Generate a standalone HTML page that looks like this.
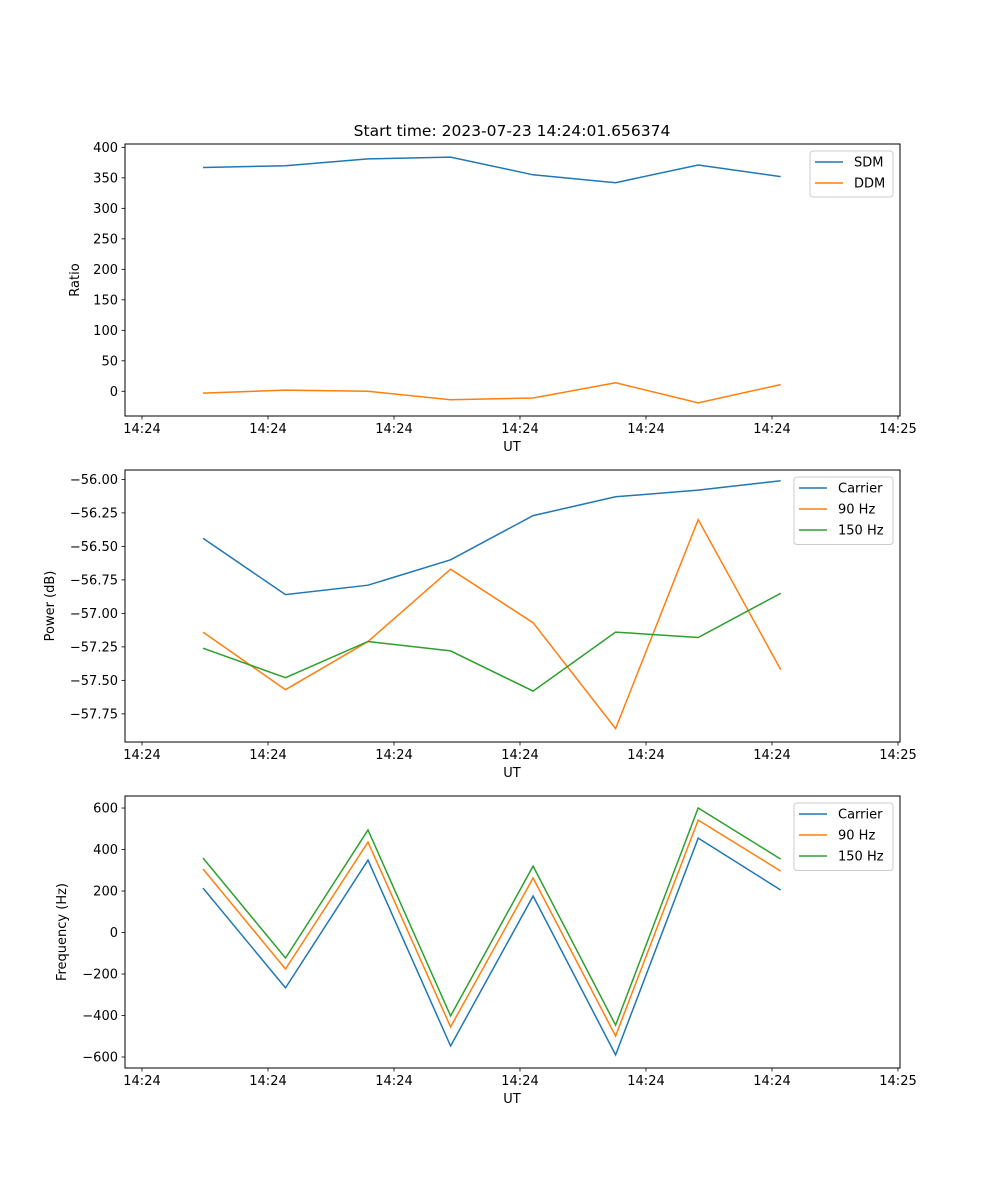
<!DOCTYPE html>
<html><head><meta charset="utf-8"><style>
body{margin:0;background:#fff}
svg{display:block;font-family:"DejaVu Sans","Liberation Sans",sans-serif}
</style></head><body>
<svg id="fig" width="1000" height="1200"></svg>
<script>
const times=[4.84,11.39,17.94,24.49,31.04,37.59,44.14,50.69];
const xTickVals=[0,10,20,30,40,50,60];
const xTickLabels=["14:24","14:24","14:24","14:24","14:24","14:24","14:25"];
const sdm=[367,370,381,384,355,342,371,352];
const ddm=[-3,2,0,-14,-11,14,-19,11];
const pCarrier=[-56.44,-56.86,-56.79,-56.60,-56.27,-56.13,-56.08,-56.01];
const p90=[-57.14,-57.57,-57.21,-56.67,-57.07,-57.86,-56.30,-57.42];
const p150=[-57.26,-57.48,-57.21,-57.28,-57.58,-57.14,-57.18,-56.85];
const fCarrier=[214,-267,349,-547,176,-590,455,205];
const f90=[306,-176,436,-455,263,-499,542,296];
const f150=[359,-123,494,-402,320,-446,600,354];
const ticks1=[0,50,100,150,200,250,300,350,400];
const ticks2=[-57.75,-57.5,-57.25,-57,-56.75,-56.5,-56.25,-56];
const ticks3=[-600,-400,-200,0,200,400,600];

const NS="http://www.w3.org/2000/svg";
const svg=document.getElementById('fig');
function mk(tag,attrs,parent,text){const e=document.createElementNS(NS,tag);for(const k in attrs)e.setAttribute(k,attrs[k]);if(text!==undefined)e.textContent=text;(parent||svg).appendChild(e);return e;}
const X0=125,X1=900;
const xs=t=>142+t*12.6;
const C=['#1f77b4','#ff7f0e','#2ca02c'];
const FS=13;

function panel(name,top,ymin,ymax,ticks,fmt,ylabel,ylx,series,legend){
  const bot=top+272;
  const g=mk('g',{});
  
  
  const ys=v=>bot-(v-ymin)/(ymax-ymin)*272;
  series.forEach((s,i)=>{
    const pts=times.map((t,j)=>xs(t).toFixed(1)+','+ys(s.v[j]).toFixed(1)).join(' ');
    const l=mk('polyline',{points:pts,fill:'none',stroke:C[i],'stroke-width':1.5},g);
    
    
  });
  const fr=mk('rect',{x:X0,y:top,width:X1-X0,height:272,fill:'none',stroke:'#000','stroke-width':1},g);
  
  
  xTickVals.forEach((t,i)=>{
    const x=xs(t);
    mk('line',{x1:x,x2:x,y1:bot,y2:bot+3.5,stroke:'#000','stroke-width':0.8},g);
    const tx=mk('text',{x:x,y:bot+17,'font-size':FS,'text-anchor':'middle'},g,xTickLabels[i]);
    
    
  });
  ticks.forEach(v=>{
    const y=ys(v);
    mk('line',{x1:X0,x2:X0-3.5,y1:y,y2:y,stroke:'#000','stroke-width':0.8},g);
    const tx=mk('text',{x:X0-7,y:y+4.7,'font-size':FS,'text-anchor':'end'},g,fmt(v));
    
    
  });
  const xl=mk('text',{x:512,y:bot+35,'font-size':FS,'text-anchor':'middle'},g,'UT');
  
  
  const yl=mk('text',{x:ylx,y:top+136,'font-size':FS,'text-anchor':'middle',transform:`rotate(-90 ${ylx} ${top+136})`},g,ylabel);
  
  
  const lg=mk('g',{},g);
  
  
  mk('rect',{x:legend.x,y:top+7,width:893-legend.x,height:series.length*21.5+3,fill:'#fff',stroke:'#ccc',rx:3},lg);
  series.forEach((s,i)=>{
    const y=top+18+i*21;
    mk('line',{x1:legend.x+5,x2:legend.x+33,y1:y,y2:y,stroke:C[i],'stroke-width':1.5},lg);
    const t=mk('text',{x:legend.x+44,y:y+4.7,'font-size':FS},lg,s.label);
    
    
  });
}
const t=mk('text',{x:512,y:136,'font-size':15.5,'text-anchor':'middle'},svg,'Start time: 2023-07-23 14:24:01.656374');


panel('ratio-panel',144,-40.5,405.5,ticks1,v=>String(v),'Ratio',79,
  [{key:'sdm',label:'SDM',v:sdm},{key:'ddm',label:'DDM',v:ddm}],{x:810});
panel('power-panel',470,-57.96,-55.93,ticks2,v=>'\u2212'.repeat(v<0?1:0)+Math.abs(v).toFixed(2),'Power (dB)',54,
  [{key:'carrier',label:'Carrier',v:pCarrier},{key:'90hz',label:'90 Hz',v:p90},{key:'150hz',label:'150 Hz',v:p150}],{x:794});
panel('frequency-panel',796,-653,658,ticks3,v=>(v<0?'\u2212':'')+Math.abs(v),'Frequency (Hz)',66,
  [{key:'carrier',label:'Carrier',v:fCarrier},{key:'90hz',label:'90 Hz',v:f90},{key:'150hz',label:'150 Hz',v:f150}],{x:794});
</script>
</body></html>
